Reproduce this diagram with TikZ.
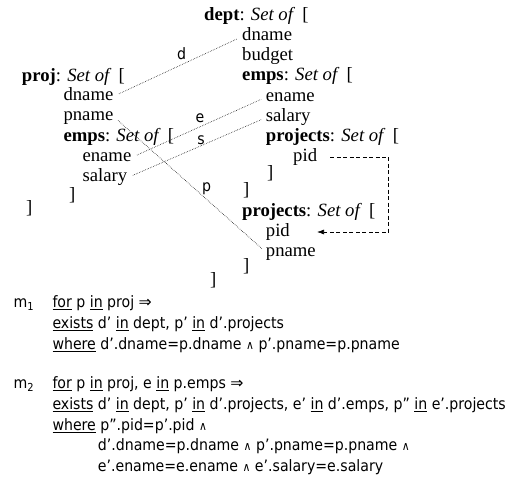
\documentclass[tikz,border=0pt]{standalone}
\usepackage{fontspec}
\setmainfont{Liberation Serif}
\newfontfamily\tah{DejaVu Sans Condensed}
\newfontfamily\tahw{DejaVu Sans}
\usetikzlibrary{arrows.meta}
\newcommand\ukw[1]{\setbox0\hbox{#1}\rlap{\rule[-2.4pt]{\wd0}{0.9pt}}\box0\relax}
\newcommand\wedg{{\fontsize{12}{12}\selectfont ∧}}
\newcommand\impl{{\tahw ⇒}}
\newcommand\setof{{\itshape Set of}\ \ [}
\begin{document}
\begin{tikzpicture}[x=1pt,y=-1pt,
  sch/.style={anchor=base west, inner sep=0pt, text height=12pt, text depth=4pt, font=\fontsize{18.7}{19}\selectfont},
  frm/.style={anchor=base west, inner sep=0pt, font=\tah\fontsize{15.7}{16}\selectfont},
  lbl/.style={inner sep=0pt, font=\tah\fontsize{15.7}{16}\selectfont},
  corr/.style={line width=0.65pt, dash pattern=on 0.5pt off 1.2pt, shorten <=6pt, shorten >=5pt},
  refl/.style={line width=0.7pt, dash pattern=on 4pt off 2.5pt, -{Latex[length=7pt,width=5pt]}}]
\useasboundingbox (0,0) rectangle (516,479);
% right schema
\node[sch] (rdept) at (204,20.6) {\textbf{dept}: \setof};
\node[sch] (rdname) at (242,40.6) {dname};
\node[sch] (rbudget) at (242,60.6) {budget};
\node[sch] (remps) at (242,80.8) {\textbf{emps}: \setof};
\node[sch] (rename) at (265.7,101.3) {ename};
\node[sch] (rsalary) at (265.7,121.7) {salary};
\node[sch] (rproj1) at (265.7,141.5) {\textbf{projects}: \setof};
\node[sch] (rpid1) at (293,161) {pid};
\node[sch] (rb1) at (267,178.6) {]};
\node[sch] (rb2) at (243,195) {]};
\node[sch] (rproj2) at (242,216) {\textbf{projects}: \setof};
\node[sch] (rpid2) at (265.7,236) {pid};
\node[sch] (rpname) at (265.7,256) {pname};
\node[sch] (rb3) at (243,271.6) {]};
\node[sch] (rb4) at (210,285) {]};
% left schema
\node[sch] (lproj) at (21.7,81) {\textbf{proj}: \setof};
\node[sch] (ldname) at (63.3,100.3) {dname};
\node[sch] (lpname) at (63.3,120.5) {pname};
\node[sch] (lemps) at (63.3,141) {\textbf{emps}: \setof};
\node[sch] (lename) at (82.3,161.5) {ename};
\node[sch] (lsalary) at (82.3,181.7) {salary};
\node[sch] (lb1) at (69,200) {]};
\node[sch] (lb2) at (26,213) {]};
% correspondences
\draw[corr] (ldname.east) -- (rdname.west);
\draw[corr] (lpname.east) -- (rpname.west);
\draw[corr] (lename.east) -- (rename.west);
\draw[corr] (lsalary.east) -- (rsalary.west);
\node[lbl] (dl) at (181.7,53.3) {d};
\node[lbl] (el) at (200,118.3) {e};
\node[lbl] (sl) at (201,140) {s};
\node[lbl] (pl) at (206.7,188.3) {p};
% reference
\draw[refl] ([xshift=13pt]rpid1.east) -| ([xshift=98.7pt]rpid2.east) -- ([xshift=27pt]rpid2.east);
% mappings
\node[frm] (m1) at (13.3,307.3) {m\raisebox{-3.5pt}{\fontsize{11}{11}\selectfont 1}};
\node[frm] (m1a) at (52.3,307.3) {\ukw{for} p \ukw{in} proj \impl};
\node[frm] (m1b) at (52.3,328.3) {\ukw{exists} d’ \ukw{in} dept, p’ \ukw{in} d’.projects};
\node[frm] (m1c) at (52.3,349) {\ukw{where} d’.dname=p.dname \wedg\ p’.pname=p.pname};
\node[frm] (m2) at (13.3,388.3) {m\raisebox{-3.5pt}{\fontsize{11}{11}\selectfont 2}};
\node[frm] (m2a) at (52.3,388.3) {\ukw{for} p \ukw{in} proj, e \ukw{in} p.emps \impl};
\node[frm] (m2b) at (52.3,409.3) {\ukw{exists} d’ \ukw{in} dept, p’ \ukw{in} d’.projects, e’ \ukw{in} d’.emps, p” \ukw{in} e’.projects};
\node[frm] (m2c) at (52.3,430) {\ukw{where} p”.pid=p’.pid \wedg};
\node[frm] (m2d) at (97.7,450.7) {d’.dname=p.dname \wedg\ p’.pname=p.pname \wedg};
\node[frm] (m2e) at (97.7,471) {e’.ename=e.ename \wedg\ e’.salary=e.salary};
\end{tikzpicture}
\end{document}
